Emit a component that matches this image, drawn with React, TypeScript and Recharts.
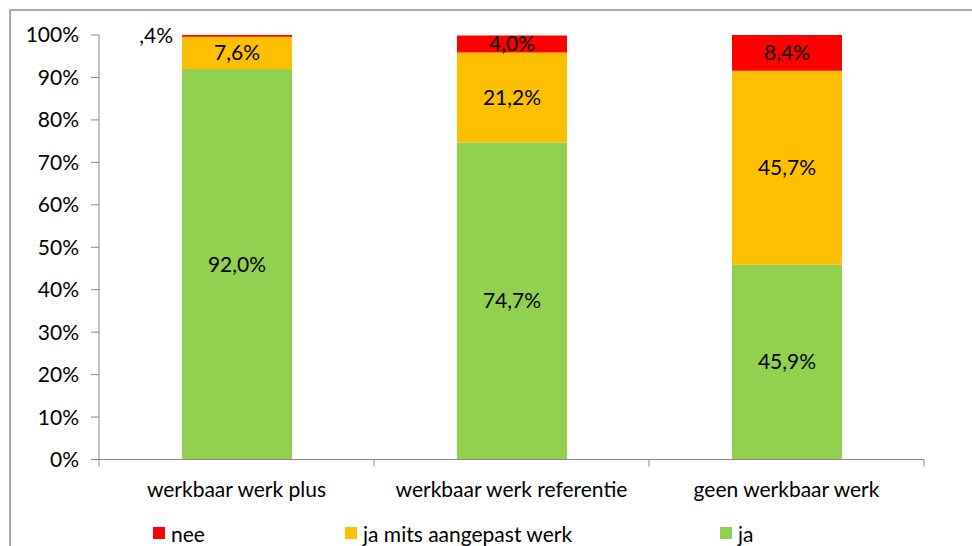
import React from 'react';
import { BarChart, Bar, XAxis, YAxis, LabelList, Legend } from 'recharts';

const categories = ['werkbaar werk plus', 'werkbaar werk referentie', 'geen werkbaar werk'];
const jaValues = [92.0, 74.7, 45.9];
const aangepastValues = [7.6, 21.2, 45.7];
const neeValues = [0.4, 4.0, 8.4];
const yTicks = [0, 10, 20, 30, 40, 50, 60, 70, 80, 90, 100];
const seriesNames = { nee: 'nee', aangepast: 'ja mits aangepast werk', ja: 'ja' };

const COLORS = { ja: '#92D050', aangepast: '#FFC000', nee: '#FF0000' };
const FONT = 'Lato, "Open Sans", sans-serif';
const FS = 21;
const AXIS = '#868686';

const data = categories.map((c, i) => ({
  name: c,
  ja: jaValues[i],
  aangepast: aangepastValues[i],
  nee: neeValues[i],
}));

const fmt = (v: number) => {
  const s = v.toFixed(1).replace('.', ',');
  return (s.startsWith('0,') ? s.slice(1) : s) + '%';
};

const CenterLabel = (props: any) => {
  const { x, y, width, height, value } = props;
  return (
    <text x={x + width / 2} y={y + height / 2} dy="0.35em" textAnchor="middle" fill="#000" fontSize={FS} fontFamily={FONT}>
      {fmt(value)}
    </text>
  );
};

const NeeLabel = (props: any) => {
  const { x, y, width, height, value } = props;
  if (value < 1) {
    return (
      <text x={x - 9} y={y + height / 2} dy="0.35em" textAnchor="end" fill="#000" fontSize={FS} fontFamily={FONT}>
        {fmt(value)}
      </text>
    );
  }
  return <CenterLabel {...props} />;
};

const CategoryTick = (props: any) => {
  const { x, y, payload, index, width, visibleTicksCount } = props;
  const half = width / visibleTicksCount / 2;
  return (
    <g>
      <line x1={x - half} x2={x - half} y1={y} y2={y + 7} stroke={AXIS} strokeWidth={1} />
      {index === visibleTicksCount - 1 && (
        <line x1={x + half} x2={x + half} y1={y} y2={y + 7} stroke={AXIS} strokeWidth={1} />
      )}
      <text x={x} y={y + 37} textAnchor="middle" fill="#000" fontSize={FS} fontFamily={FONT}>
        {payload.value}
      </text>
    </g>
  );
};

const legendItems = [
  { key: 'nee', left: 153 },
  { key: 'aangepast', left: 345 },
  { key: 'ja', left: 720 },
];

const LegendContent = () => (
  <div style={{ position: 'relative', width: 972, height: 24, fontFamily: FONT, fontSize: FS }}>
    {legendItems.map((it) => (
      <div key={it.key} style={{ position: 'absolute', left: it.left, top: 0, display: 'flex', alignItems: 'center', height: 24 }}>
        <span style={{ display: 'inline-block', width: 12, height: 12, background: (COLORS as any)[it.key], marginRight: 6 }} />
        <span style={{ color: '#000' }}>{(seriesNames as any)[it.key]}</span>
      </div>
    ))}
  </div>
);

export default function App() {
  return (
    <div style={{ position: 'absolute', left: 0, top: 0, width: 972, height: 546, overflow: 'hidden', background: '#fff' }}>
      <div style={{ position: 'absolute', left: 9, top: 9, width: 1100, height: 700, border: '2px solid #aaaaaa', boxSizing: 'border-box' }} />
      <BarChart width={972} height={546} data={data} margin={{ top: 35, right: 48, bottom: 22.5, left: 10 }} barSize={110}>
        <YAxis
          type="number"
          domain={[0, 100]}
          ticks={yTicks}
          interval={0}
          tickFormatter={(v: number) => `${v}%`}
          width={89}
          tickSize={8}
          tickMargin={12}
          axisLine={{ stroke: AXIS }}
          tickLine={{ stroke: AXIS }}
          tick={{ fill: '#000', fontSize: FS, fontFamily: FONT }}
          allowDataOverflow
        />
        <XAxis
          dataKey="name"
          type="category"
          height={40}
          tickSize={0}
          tickMargin={0}
          tickLine={false}
          axisLine={{ stroke: AXIS }}
          tick={<CategoryTick />}
          interval={0}
        />
        <Legend
          content={<LegendContent />}
          wrapperStyle={{ position: 'absolute', left: 0, top: 521, width: 972 }}
        />
        <Bar dataKey="ja" name={seriesNames.ja} stackId="a" fill={COLORS.ja} isAnimationActive={false}>
          <LabelList dataKey="ja" content={<CenterLabel />} />
        </Bar>
        <Bar dataKey="aangepast" name={seriesNames.aangepast} stackId="a" fill={COLORS.aangepast} isAnimationActive={false}>
          <LabelList dataKey="aangepast" content={<CenterLabel />} />
        </Bar>
        <Bar dataKey="nee" name={seriesNames.nee} stackId="a" fill={COLORS.nee} isAnimationActive={false}>
          <LabelList dataKey="nee" content={<NeeLabel />} />
        </Bar>
      </BarChart>
    </div>
  );
}
